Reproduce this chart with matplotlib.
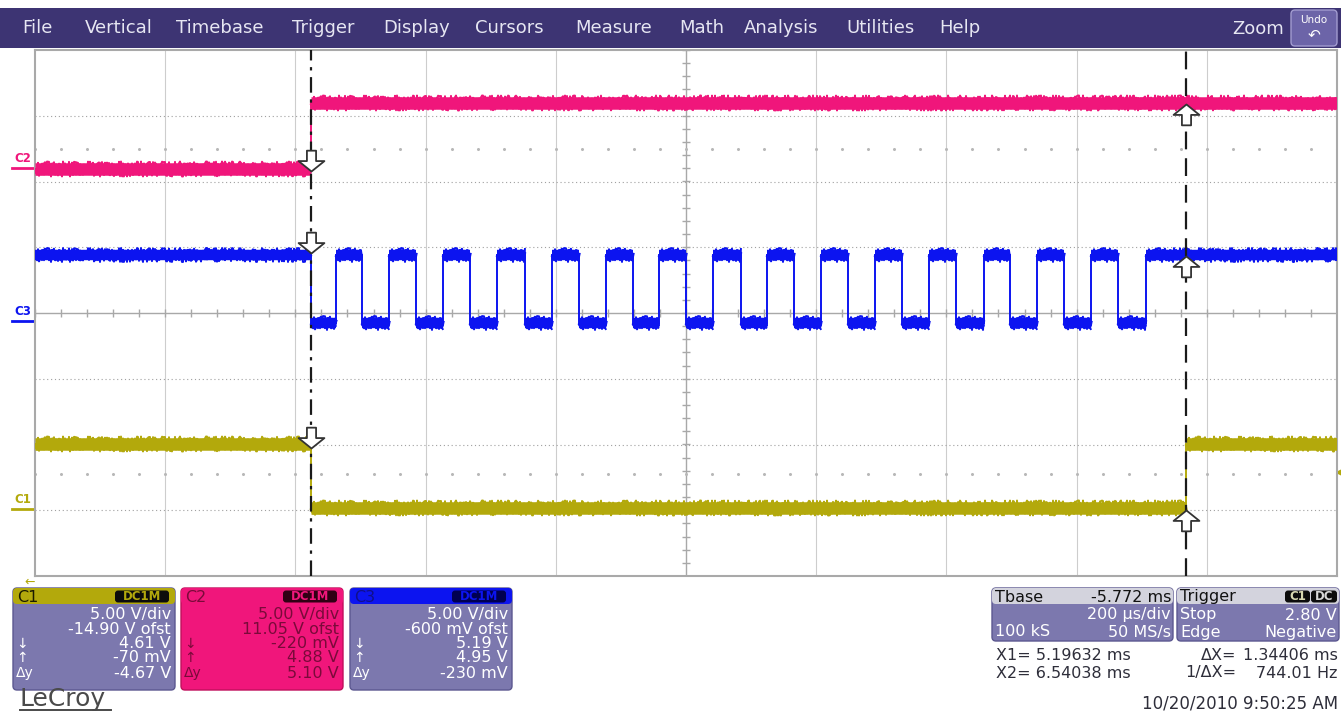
import numpy as np
import matplotlib
matplotlib.use("Agg")
import matplotlib.pyplot as plt
from matplotlib.patches import Rectangle, FancyBboxPatch
from matplotlib.path import Path
from matplotlib.transforms import blended_transform_factory

W, H = 1341, 713

# timebase (ms): 10 divisions of 200 us, screen centre at 5.772 ms
t_div = 0.2
t_center = 5.772
t_left = t_center - 5 * t_div
t_right = t_center + 5 * t_div
x1_cursor = 5.19632
x2_cursor = 6.54038

# vertical settings, all channels 5 V/div
volts_div = 5.0
c1_offset = -14.90
c2_offset = 11.05
c3_offset = -0.600
trig_level = 2.80

# C2 steps up at X1
c2_levels = [-0.12, 4.90]
c2_edges = [x1_cursor]
# C1 drops at X1, back up at X2
c1_levels = [4.95, 0.10, 4.95]
c1_edges = [x1_cursor, x2_cursor]
# C3 (Emios0) pulse train
c3_high, c3_low = 4.98, -0.18
c3_fall = [5.196, 5.275, 5.358, 5.440, 5.524, 5.607, 5.690, 5.772,
           5.856, 5.938, 6.021, 6.104, 6.186, 6.269, 6.352, 6.436]
c3_rise = [5.234, 5.316, 5.399, 5.482, 5.566, 5.649, 5.731, 5.814,
           5.897, 5.979, 6.062, 6.145, 6.229, 6.311, 6.394, 6.479]

# cursor readings (V): at X1, at X2
c1_cursor = [4.61, -0.070]
c2_cursor = [-0.220, 4.88]
c3_cursor = [5.19, 4.95]

# readout panels
ch_names = ["C1", "C2", "C3"]
ch_vdiv = ["5.00 V/div", "5.00 V/div", "5.00 V/div"]
ch_ofst = ["-14.90 V ofst", "11.05 V ofst", "-600 mV ofst"]
ch_down = ["4.61 V", "-220 mV", "5.19 V"]
ch_up = ["-70 mV", "4.88 V", "4.95 V"]
ch_dy = ["-4.67 V", "5.10 V", "-230 mV"]

menu_items = ["File", "Vertical", "Timebase", "Trigger", "Display", "Cursors",
              "Measure", "Math", "Analysis", "Utilities", "Help"]
menu_x = [22, 85, 176, 292, 383, 475, 575, 679, 744, 846, 939]

C1_COL = "#b3a90c"
C2_COL = "#f0167b"
C3_COL = "#0c14f0"
PANEL = "#7c78ae"
MENU = "#3d3473"


def to_div(v, offset):
    return (v + offset) / volts_div


fig = plt.figure(figsize=(W / 100, H / 100), dpi=100)
fig.patch.set_facecolor("white")

# pixel-space layer for the menu and readouts
ui = fig.add_axes([0, 0, 1, 1], zorder=0)
ui.set_xlim(0, W)
ui.set_ylim(H, 0)
ui.axis("off")

# scope grid
px_l, px_r, px_t, px_b = 35, 1337, 50, 576
ax = fig.add_axes([px_l / W, 1 - px_b / H, (px_r - px_l) / W, (px_b - px_t) / H], zorder=1)
ax.set_xlim(t_left, t_right)
ax.set_ylim(-4, 4)
ax.set_xticks([])
ax.set_yticks([])
for s in ax.spines.values():
    s.set_color("#a9a9a9")
    s.set_linewidth(1.5)

for k in range(1, 10):
    if k != 5:
        ax.axvline(t_left + k * t_div, color="#cdcdcd", lw=0.8, zorder=1)
for k in [-3, -2, -1, 1, 2, 3]:
    ax.axhline(k, color="#a0a0a0", lw=0.8, ls=(0, (1, 2.5)), zorder=1)
ax.axhline(0, color="#a8a8a8", lw=1.0, zorder=1)
ax.axvline(t_center, color="#a8a8a8", lw=1.0, zorder=1)
ticks_t = np.arange(t_left, t_right + 1e-9, t_div / 5)
ticks_y = np.arange(-4, 4.01, 0.2)
ax.plot(ticks_t, np.zeros_like(ticks_t), ls="none", marker="|", ms=6, mew=1, color="#a8a8a8", zorder=1)
ax.plot(np.full_like(ticks_y, t_center), ticks_y, ls="none", marker="_", ms=6, mew=1, color="#a8a8a8", zorder=1)
for yr in [2.5, -2.45]:
    ax.plot(ticks_t, np.full_like(ticks_t, yr), ls="none", marker="o", ms=1.2, color="#b8b8b8", zorder=1)


def draw_trace(edges, levels, offset, color, lw=6.0, fuzz=6.5):
    bounds = [t_left] + list(edges) + [t_right]
    for i, lev in enumerate(levels):
        y = to_div(lev, offset)
        seg = [bounds[i], bounds[i + 1]]
        # solid core of the noisy band
        ax.plot(seg, [y, y], color=color, lw=lw, solid_capstyle="butt", zorder=3)
        # thinner jittered strokes give the ragged edges and spikes
        mid, = ax.plot(seg, [y, y], color=color, lw=2.6, solid_capstyle="butt", zorder=3)
        mid.set_sketch_params(fuzz * 0.5, 5.0, 3.0)
        for sc, ln_len, rnd in [(fuzz, 1.0, 2.0), (fuzz * 0.75, 2.5, 4.0), (fuzz * 0.55, 1.5, 3.0)]:
            ln, = ax.plot(seg, [y, y], color=color, lw=1.4, solid_capstyle="butt", zorder=3)
            ln.set_sketch_params(sc, ln_len, rnd)
    for i, t in enumerate(edges):
        ax.plot([t, t], [to_div(levels[i], offset), to_div(levels[i + 1], offset)],
                color=color, lw=1.4, zorder=3)


c3_edges = sorted(c3_fall + c3_rise)
c3_levels = [c3_high if i % 2 == 0 else c3_low for i in range(len(c3_edges) + 1)]

draw_trace(c2_edges, c2_levels, c2_offset, C2_COL, lw=9.0, fuzz=7.5)
draw_trace(c3_edges, c3_levels, c3_offset, C3_COL, lw=7.5, fuzz=7.0)
draw_trace(c1_edges, c1_levels, c1_offset, C1_COL, lw=9.0, fuzz=7.5)

# cursors
ax.axvline(x1_cursor, color="#1a1a1a", lw=1.6, dashes=(7, 3, 1.5, 3), zorder=4)
ax.axvline(x2_cursor, color="#1a1a1a", lw=1.6, dashes=(8, 4), zorder=4)

# hollow arrows with their tip on the cursor reading
down_arrow = Path([(0, 0), (0.62, 0.5), (0.22, 0.5), (0.22, 1.0), (-0.22, 1.0),
                   (-0.22, 0.5), (-0.62, 0.5), (0, 0)], closed=True)
up_arrow = Path([(x, -y) for x, y in down_arrow.vertices], closed=True)
for vals, off in [(c1_cursor, c1_offset), (c2_cursor, c2_offset), (c3_cursor, c3_offset)]:
    ax.plot([x1_cursor], [to_div(vals[0], off)], marker=down_arrow, ms=30, mfc="white",
            mec="#333333", mew=1.3, ls="none", zorder=5)
    ax.plot([x2_cursor], [to_div(vals[1], off)], marker=up_arrow, ms=30, mfc="white",
            mec="#333333", mew=1.3, ls="none", zorder=5)

# channel ground markers to the left of the grid
mark = blended_transform_factory(ui.transData, ax.transData)
for name, off, col in [("C1", c1_offset, C1_COL), ("C2", c2_offset, C2_COL), ("C3", c3_offset, C3_COL)]:
    y0 = to_div(0, off)
    ui.plot([12, 34], [y0, y0], color=col, lw=2, transform=mark, clip_on=False)
    ui.text(23, y0 + 0.04, name, transform=mark, color=col, fontsize=8.5,
            ha="center", va="bottom", fontweight="bold")

# trigger level tick on the right edge, trigger-off-screen arrow bottom left
ui.plot([1339], [to_div(trig_level, c1_offset)], marker="<", ms=5, color=C1_COL,
        transform=mark, clip_on=False)
ui.text(30, 582, "\u2190", color=C1_COL, fontsize=9, ha="center", va="center")

ui.text(45, 290, "<< Emios0", color="#3a3a3a", fontsize=8.5, ha="left", va="center")
ui.plot([45, 131], [297, 297], color="#3a3a3a", lw=1)

# menu bar
ui.add_patch(Rectangle((0, 8), W, 40, fc=MENU, ec="none"))
for lbl, x in zip(menu_items, menu_x):
    ui.text(x, 28, lbl, color="#e6e6f2", fontsize=13, ha="left", va="center")
ui.text(1284, 29, "Zoom", color="#e6e6f2", fontsize=13, ha="right", va="center")
ui.add_patch(FancyBboxPatch((1291, 10), 46, 36, boxstyle="round,pad=0,rounding_size=4",
                            fc="#6c64a8", ec="#a29cd0", lw=1))
ui.text(1314, 20, "Undo", color="white", fontsize=7.5, ha="center", va="center")
ui.text(1314, 35, "\u21b6", color="white", fontsize=11, ha="center", va="center")


def rbox(x0, y0, w, h, fc, r=4, ec="none"):
    ui.add_patch(FancyBboxPatch((x0, y0), w, h, boxstyle=f"round,pad=0,rounding_size={r}",
                                fc=fc, ec=ec, lw=1))


fs = 11.5
rows = [615, 629, 644, 658, 673]
panel_x = [13, 181, 350]
head_cols = [C1_COL, C2_COL, C3_COL]
head_txt = ["#1a1a00", "#7a0a3a", "#10108a"]
body_cols = [PANEL, C2_COL, PANEL]
body_txt = ["white", "#7a0a3a", "white"]
for i, x0 in enumerate(panel_x):
    rbox(x0, 588, 162, 102, body_cols[i], ec="#5c5890" if i != 1 else "#c0105c")
    rbox(x0, 588, 162, 16, head_cols[i])
    ui.text(x0 + 4, 597, ch_names[i], color=head_txt[i], fontsize=fs, ha="left", va="center")
    rbox(x0 + 102, 590.5, 54, 12, "#0c0c0c" if i == 0 else ("#300014" if i == 1 else "#000050"), r=3)
    ui.text(x0 + 129, 597, "DC1M", color=head_cols[i], fontsize=8.5, fontweight="bold",
            ha="center", va="center")
    vals = [ch_vdiv[i], ch_ofst[i], ch_down[i], ch_up[i], ch_dy[i]]
    tags = ["", "", "\u2193", "\u2191", "\u0394y"]
    for y, v, tg in zip(rows, vals, tags):
        ui.text(x0 + 158, y, v, color=body_txt[i], fontsize=fs, ha="right", va="center")
        if tg:
            ui.text(x0 + 3, y, tg, color=body_txt[i], fontsize=10, ha="left", va="center")

ui.text(20, 699, "LeCroy", color="#4a4a4a", fontsize=18, ha="left", va="center")
ui.plot([20, 111], [710, 710], color="#4a4a4a", lw=1.4)

# timebase and trigger panels
HEAD_GRAY = "#d3d3dd"
rbox(992, 588, 181, 53, PANEL, ec="#5c5890")
rbox(992, 588, 181, 16, HEAD_GRAY)
ui.text(995, 597, "Tbase", color="#111111", fontsize=fs, ha="left", va="center")
ui.text(1171, 597, "-5.772 ms", color="#111111", fontsize=fs, ha="right", va="center")
ui.text(1171, 615, "200 \u00b5s/div", color="white", fontsize=fs, ha="right", va="center")
ui.text(995, 632, "100 kS", color="white", fontsize=fs, ha="left", va="center")
ui.text(1171, 632, "50 MS/s", color="white", fontsize=fs, ha="right", va="center")

rbox(1177, 588, 162, 53, PANEL, ec="#5c5890")
rbox(1177, 588, 162, 16, HEAD_GRAY)
ui.text(1180, 597, "Trigger", color="#111111", fontsize=fs, ha="left", va="center")
rbox(1285, 590.5, 25, 12, "#0c0c0c", r=3)
ui.text(1297.5, 597, "C1", color="#d8d8b0", fontsize=8.5, fontweight="bold", ha="center", va="center")
rbox(1311, 590.5, 26, 12, "#0c0c0c", r=3)
ui.text(1324, 597, "DC", color="#d8d8d8", fontsize=8.5, fontweight="bold", ha="center", va="center")
ui.text(1180, 615, "Stop", color="white", fontsize=fs, ha="left", va="center")
ui.text(1337, 615, "2.80 V", color="white", fontsize=fs, ha="right", va="center")
ui.text(1180, 632, "Edge", color="white", fontsize=fs, ha="left", va="center")
ui.text(1337, 632, "Negative", color="white", fontsize=fs, ha="right", va="center")

RO = "#2e2e3a"
ro_fs = 11.5
ui.text(996, 655, "X1= 5.19632 ms", color=RO, fontsize=ro_fs, ha="left", va="center")
ui.text(996, 673, "X2= 6.54038 ms", color=RO, fontsize=ro_fs, ha="left", va="center")
ui.text(1236, 655, "\u0394X=", color=RO, fontsize=ro_fs, ha="right", va="center")
ui.text(1338, 655, "1.34406 ms", color=RO, fontsize=ro_fs, ha="right", va="center")
ui.text(1236, 673, "1/\u0394X=", color=RO, fontsize=ro_fs, ha="right", va="center")
ui.text(1338, 673, "744.01 Hz", color=RO, fontsize=ro_fs, ha="right", va="center")
ui.text(1338, 703, "10/20/2010 9:50:25 AM", color=RO, fontsize=12, ha="right", va="center")

fig.savefig("out.png", dpi=100)
